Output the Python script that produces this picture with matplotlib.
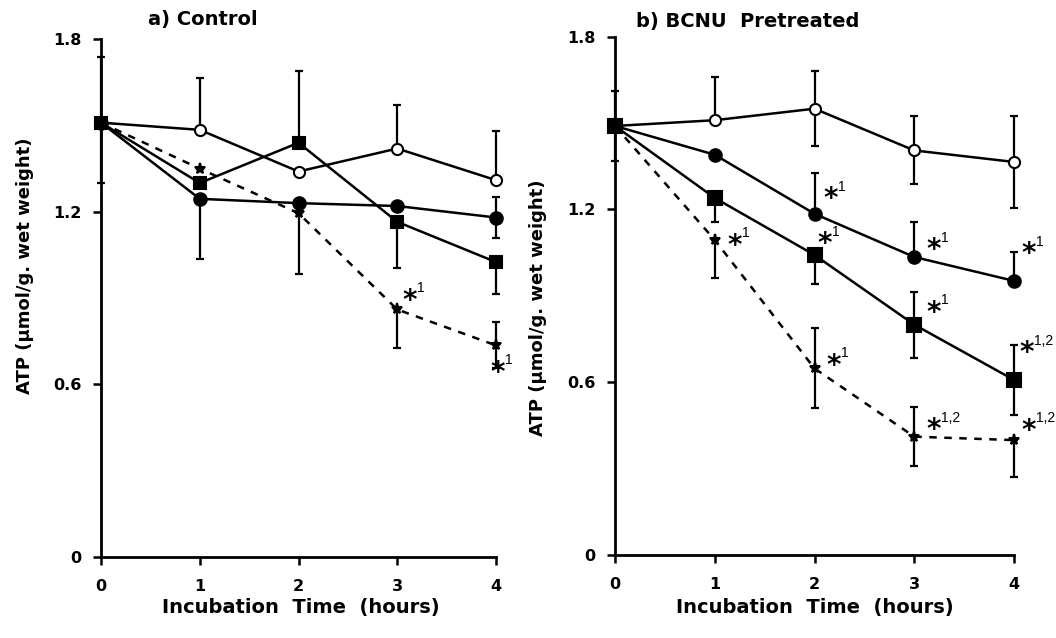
import matplotlib
matplotlib.use("Agg")
import matplotlib.pyplot as plt
import numpy as np

plt.rcParams['font.family'] = ['DejaVu Sans']
plt.rcParams['font.weight'] = 'bold'

hours = [0, 1, 2, 3, 4]
y_ticks = [0, 0.6, 1.2, 1.8]
x_ticks = [0, 1, 2, 3, 4]

# ---- Panel a) Control ----
a_open = [1.51, 1.485, 1.34, 1.42, 1.31]
a_open_lo = [0, 0, 0, 0, 0]
a_open_hi = [0.23, 0.18, 0, 0.15, 0.17]

a_closed = [1.51, 1.245, 1.23, 1.22, 1.18]
a_closed_lo = [0.21, 0.21, 0, 0, 0.07]
a_closed_hi = [0, 0, 0, 0, 0.07]

a_square = [1.51, 1.30, 1.44, 1.165, 1.025]
a_square_lo = [0, 0, 0, 0.16, 0.11]
a_square_hi = [0, 0, 0.25, 0, 0]

a_star = [1.51, 1.35, 1.195, 0.86, 0.735]
a_star_lo = [0, 0, 0.21, 0.135, 0.08]
a_star_hi = [0, 0, 0, 0, 0.08]

a_annot = [(3.05, 0.905, "1"), (3.94, 0.655, "1")]

# ---- Panel b) BCNU Pretreated ----
b_open = [1.49, 1.51, 1.55, 1.405, 1.365]
b_open_lo = [0.12, 0, 0.13, 0.115, 0.16]
b_open_hi = [0.12, 0.15, 0.13, 0.12, 0.16]

b_closed = [1.49, 1.39, 1.185, 1.035, 0.952]
b_closed_lo = [0, 0, 0, 0, 0]
b_closed_hi = [0, 0, 0.14, 0.12, 0.10]

b_square = [1.49, 1.24, 1.042, 0.80, 0.608]
b_square_lo = [0, 0.085, 0.10, 0.117, 0.122]
b_square_hi = [0, 0, 0, 0.115, 0.121]

b_star = [1.49, 1.094, 0.648, 0.411, 0.399]
b_star_lo = [0, 0.133, 0.138, 0.102, 0.127]
b_star_hi = [0, 0, 0.139, 0.102, 0.0]

b_annot = [(1.13, 1.088, "1"), (2.09, 1.25, "1"), (2.03, 1.094, "1"),
           (3.12, 1.073, "1"), (4.07, 1.059, "1"), (2.12, 0.671, "1"),
           (3.12, 0.856, "1"), (3.12, 0.448, "1,2"), (4.05, 0.715, "1,2"),
           (4.07, 0.446, "1,2")]

fig = plt.figure(figsize=(10.56, 6.38), dpi=100)
W, H = 1056, 638
axA = fig.add_axes([101 / W, (H - 556.7) / H, 395 / W, 517.4 / H])
axB = fig.add_axes([615 / W, (H - 555) / H, 399 / W, 518.3 / H])


def draw(ax, series, annots):
    for vals, lo, hi, marker, face, ms, ls in series:
        ax.errorbar(hours, vals, yerr=[lo, hi], fmt='none', ecolor='black',
                    elinewidth=1.6, capsize=3, capthick=1.6, clip_on=False, zorder=2)
        ax.plot(hours, vals, color='black', linestyle=ls, linewidth=1.8,
                marker=marker, markersize=ms, markerfacecolor=face,
                markeredgecolor='black', markeredgewidth=1.5,
                clip_on=False, zorder=3)
    for x, y, sup in annots:
        ax.annotate("*", (x, y), xytext=(0, -3), textcoords='offset points',
                    fontsize=20, fontweight='bold', ha='left', va='center',
                    zorder=5, annotation_clip=False)
        ax.annotate(sup, (x, y), xytext=(10.5, 6), textcoords='offset points',
                    fontsize=10, fontweight='normal', ha='left', va='center',
                    family=['Liberation Sans', 'DejaVu Sans'],
                    annotation_clip=False)
    ax.set_xlim(0, 4)
    ax.set_ylim(0, 1.8)
    for s in ['top', 'right']:
        ax.spines[s].set_visible(False)
    for s in ['left', 'bottom']:
        ax.spines[s].set_linewidth(2)
    ax.set_xticks(x_ticks)
    ax.set_yticks(y_ticks)
    ax.set_xticklabels([str(t) for t in x_ticks])
    ax.set_yticklabels(["0", "0.6", "1.2", "1.8"])
    ax.tick_params(direction='out', length=6, width=1.8, labelsize=11.5)
    ax.tick_params(axis='x', pad=10)
    ax.tick_params(axis='y', pad=8)
    for lab in ax.get_xticklabels() + ax.get_yticklabels():
        lab.set_fontweight('bold')


draw(axA, [
    (a_open, a_open_lo, a_open_hi, 'o', 'white', 8, '-'),
    (a_closed, a_closed_lo, a_closed_hi, 'o', 'black', 9, '-'),
    (a_square, a_square_lo, a_square_hi, 's', 'black', 9, '-'),
    (a_star, a_star_lo, a_star_hi, '*', 'black', 8, (0, (3, 3))),
], a_annot)

draw(axB, [
    (b_open, b_open_lo, b_open_hi, 'o', 'white', 8, '-'),
    (b_closed, b_closed_lo, b_closed_hi, 'o', 'black', 9, '-'),
    (b_square, b_square_lo, b_square_hi, 's', 'black', 10, '-'),
    (b_star, b_star_lo, b_star_hi, '*', 'black', 8, (0, (3, 3))),
], b_annot)

fig.text(148 / W, 1 - 19 / H, "a) Control", fontsize=14, fontweight='bold',
         ha='left', va='center')
fig.text(636 / W, 1 - 21 / H, "b) BCNU  Pretreated", fontsize=14, fontweight='bold',
         ha='left', va='center')

ylab = "ATP (\u00b5mol/g. wet weight)"
fig.text(25 / W, 1 - 266 / H, ylab, rotation=90, fontsize=13, fontweight='bold',
         ha='center', va='center')
fig.text(538 / W, 1 - 308 / H, ylab, rotation=90, fontsize=13, fontweight='bold',
         ha='center', va='center')

fig.text(301 / W, 1 - 607 / H, "Incubation  Time  (hours)", fontsize=14,
         fontweight='bold', ha='center', va='center')
fig.text(815 / W, 1 - 608 / H, "Incubation  Time  (hours)", fontsize=14,
         fontweight='bold', ha='center', va='center')

fig.savefig("out.png", dpi=100)
